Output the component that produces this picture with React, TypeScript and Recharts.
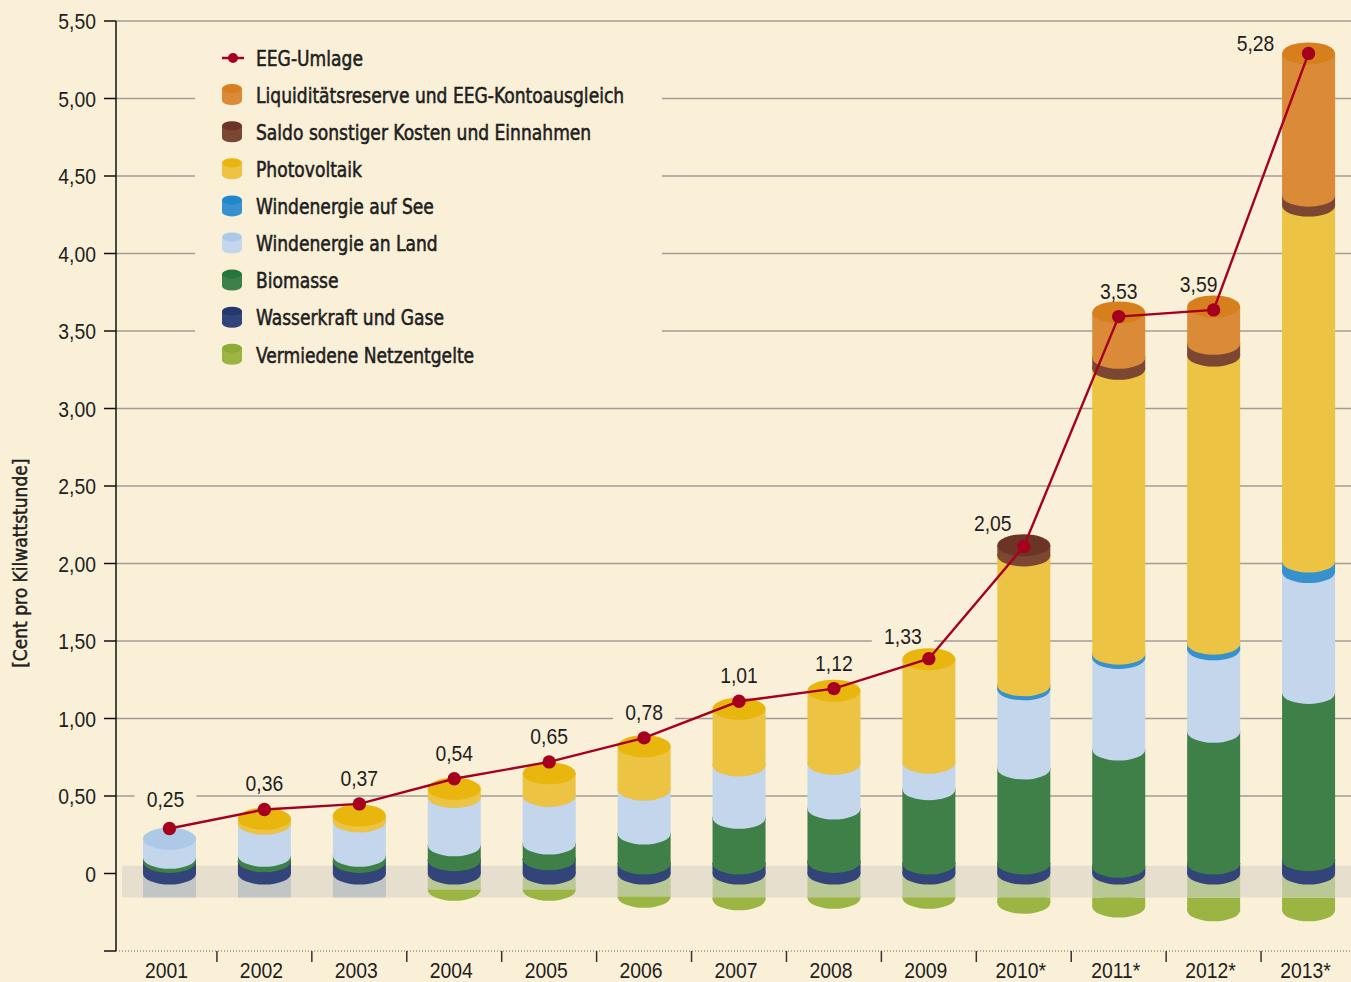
import React from 'react';
import {
  ComposedChart,
  Bar,
  Line,
  XAxis,
  YAxis,
  CartesianGrid,
  ReferenceArea,
  LabelList,
  Legend,
} from 'recharts';

// ---------- data ----------
const years = ['2001', '2002', '2003', '2004', '2005', '2006', '2007', '2008', '2009', '2010*', '2011*', '2012*', '2013*'];
const eegUmlage = [0.25, 0.36, 0.37, 0.54, 0.65, 0.78, 1.01, 1.12, 1.33, 2.05, 3.53, 3.59, 5.28];
// height of the EEG marker as drawn in the picture (sits on the cylinder tops)
const eegMarker = [0.29, 0.413, 0.449, 0.611, 0.72, 0.875, 1.111, 1.193, 1.386, 2.11, 3.593, 3.636, 5.291];

const wasserkraft = [0.075, 0.079, 0.075, 0.086, 0.092, 0.064, 0.064, 0.075, 0.064, 0.064, 0.043, 0.064, 0.086];
const biomasse = [0.026, 0.035, 0.039, 0.096, 0.101, 0.194, 0.295, 0.344, 0.48, 0.613, 0.757, 0.85, 1.079];
const windLand = [0.123, 0.208, 0.223, 0.312, 0.308, 0.284, 0.339, 0.29, 0.172, 0.511, 0.591, 0.532, 0.78];
const windSee = [null, null, null, null, null, null, null, null, null, 0.026, 0.027, 0.037, 0.068];
const photovoltaik = [null, 0.031, 0.038, 0.053, 0.145, 0.279, 0.365, 0.47, 0.667, 0.838, 1.838, 1.859, 2.296];
const saldo = [null, null, null, null, null, null, null, null, null, 0.066, 0.071, 0.075, 0.064];
const liquiditaet = [null, null, null, null, null, null, null, null, null, null, 0.293, 0.241, 0.918];
const netzentgelte = [null, null, null, -0.105, -0.105, -0.15, -0.166, -0.157, -0.157, -0.189, -0.213, -0.237, -0.237];
const ohneAngabe = [-0.155, -0.155, -0.155, null, null, null, null, null, null, null, null, null, null];

const yTicks = [-0.5, 0, 0.5, 1, 1.5, 2, 2.5, 3, 3.5, 4, 4.5, 5, 5.5];
const gridValues = [0.5, 1, 1.5, 2, 2.5, 3, 3.5, 4, 4.5, 5, 5.5];
const BAND_LOW = -0.155;
const BAND_HIGH = 0.05;

const seriesNames = [
  'EEG-Umlage',
  'Liquiditätsreserve und EEG-Kontoausgleich',
  'Saldo sonstiger Kosten und Einnahmen',
  'Photovoltaik',
  'Windenergie auf See',
  'Windenergie an Land',
  'Biomasse',
  'Wasserkraft und Gase',
  'Vermiedene Netzentgelte',
];

// ---------- style ----------
const W = 1356;
const H = 982;
const TOP = 21;
const XAXIS_H = 31;
const PLOT_H = H - TOP - XAXIS_H;
const DOMAIN: [number, number] = [-0.5, 5.5];
const BG = '#faf0d8';
const RED = '#a6001f';
const GRID = '#a29d95';
const TEXT = '#1e1e1e';
const SANS = "'Liberation Sans', Arial, sans-serif";
const COND = "'DejaVu Sans Condensed', 'DejaVu Sans', sans-serif";
const NARROW_SCALE = 0.86;
const COND_SCALE = 0.885;
const RY = 11;

const COL = {
  liq: { side: '#db8a38', top: '#d77f1c' },
  saldo: { side: '#7c4732', top: '#6b3424' },
  pv: { side: '#ecc343', top: '#e9b60d' },
  ws: { side: '#3791cf', top: '#1f87cb' },
  lb: { side: '#c3d6ec', top: '#aec9e7' },
  bio: { side: '#3f8048', top: '#23773d' },
  wk: { side: '#32447a', top: '#22386e' },
  nz: { side: '#9bb543', top: '#8eac35', band: '#bac896' },
  none: '#c1c6c5',
  band: '#e7dfcd',
};

const legendColors = [null, COL.liq, COL.saldo, COL.pv, COL.ws, COL.lb, COL.bio, COL.wk, COL.nz];

const labelNudge: Record<number, [number, number]> = {
  0: [-4, -4],
  8: [-26, 3],
  9: [-31, 3],
  11: [-15, 0],
  12: [-53, 16],
};

const data = years.map((year, i) => ({
  year,
  nz: netzentgelte[i],
  ohne: ohneAngabe[i],
  wk: wasserkraft[i],
  bio: biomasse[i],
  lb: windLand[i],
  ws: windSee[i],
  pv: photovoltaik[i],
  saldo: saldo[i],
  liq: liquiditaet[i],
  marker: eegMarker[i],
  eeg: eegUmlage[i],
}));

const fmt = (v: number) => (v === 0 ? '0' : v < 0 ? '' : v.toFixed(2).replace('.', ','));
const valToPx = (v: number) => TOP + ((DOMAIN[1] - v) / (DOMAIN[1] - DOMAIN[0])) * PLOT_H;

// narrow text: Liberation Sans squeezed horizontally (Helvetica Condensed look)
const NarrowText = ({ x, y, anchor, children, size = 22.5 }: any) => (
  <text
    transform={`translate(${x},${y}) scale(${NARROW_SCALE},1)`}
    x={0}
    y={0}
    textAnchor={anchor}
    fontFamily={SANS}
    fontSize={size}
    fill={TEXT}
  >
    {children}
  </text>
);

// ---------- shapes ----------
function cylinder(side: string, top: string) {
  return (p: any) => {
    const { x, y, width, height } = p;
    if (x == null || y == null || !width || Math.abs(height || 0) < 0.5) return <g />;
    const t = Math.min(y, y + height);
    const b = Math.max(y, y + height);
    const cx = x + width / 2;
    const rx = width / 2;
    return (
      <g>
        <ellipse cx={cx} cy={b} rx={rx} ry={RY} fill={side} />
        <rect x={x} y={t} width={width} height={b - t} fill={side} />
        <ellipse cx={cx} cy={t} rx={rx} ry={RY} fill={top} />
      </g>
    );
  };
}

const nzShape = (p: any) => {
  const { x, y, width, height, payload } = p;
  if (x == null || y == null || !width || Math.abs(height || 0) < 0.5 || !payload || payload.nz == null) return <g />;
  const t = Math.min(y, y + height);
  const b = Math.max(y, y + height);
  const ppu = (b - t) / Math.abs(payload.nz);
  const bandB = Math.min(b, t + Math.abs(BAND_LOW) * ppu);
  const cx = x + width / 2;
  return (
    <g>
      <ellipse cx={cx} cy={b} rx={width / 2} ry={RY} fill={COL.nz.side} />
      <rect x={x} y={bandB} width={width} height={b - bandB} fill={COL.nz.side} />
      <rect x={x} y={t - 8} width={width} height={bandB - t + 8} fill={COL.nz.band} />
    </g>
  );
};

const noneShape = (p: any) => {
  const { x, y, width, height } = p;
  if (x == null || y == null || !width || Math.abs(height || 0) < 0.5) return <g />;
  const t = Math.min(y, y + height);
  const b = Math.max(y, y + height);
  return <rect x={x} y={t - 8} width={width} height={b - t + 8} fill={COL.none} />;
};

// ---------- labels / ticks ----------
const ValueLabel = (p: any) => {
  const { x, y, value, index } = p;
  if (x == null || y == null) return null;
  const n = labelNudge[index] || [0, 0];
  const cx = x + n[0];
  const cy = y - 26 + n[1];
  const hitsGrid = gridValues.some((g) => Math.abs(valToPx(g) - cy) < 10);
  return (
    <g>
      {hitsGrid && <rect x={cx - 31} y={cy - 11} width={62} height={22} fill={BG} />}
      <NarrowText x={cx} y={cy + 8} anchor="middle">
        {fmt(value)}
      </NarrowText>
    </g>
  );
};

const XTick = (p: any) => {
  const { x, y, payload, index } = p;
  const off = payload && payload.offset ? payload.offset : 0;
  return (
    <g>
      {index > 0 && <line x1={x - off} x2={x - off} y1={y} y2={y + 11} stroke="#333" strokeWidth={1.5} />}
      <NarrowText x={x - 3} y={y + 27} anchor="middle">
        {payload.value}
      </NarrowText>
    </g>
  );
};

const YTick = (p: any) => {
  const { x, y, payload } = p;
  const s = fmt(payload.value);
  if (!s) return <g />;
  return (
    <NarrowText x={x} y={y + 8} anchor="end">
      {s}
    </NarrowText>
  );
};

const YLabel = (p: any) => {
  const vb = p.viewBox || { x: 0, y: TOP, width: 116, height: PLOT_H };
  const cx = 20;
  const cy = vb.y + vb.height * 0.583;
  return (
    <text
      x={cx}
      y={cy}
      transform={`rotate(-90 ${cx} ${cy})`}
      textAnchor="middle"
      dy="0.35em"
      fontFamily={COND}
      fontSize={19}
      fill={TEXT}
      stroke={TEXT}
      strokeWidth={0.45}
    >
      [Cent pro Kilwattstunde]
    </text>
  );
};

const LegendBox = () => {
  const rowH = 37.1;
  return (
    <svg width={467} height={335} style={{ display: 'block' }}>
      <rect x={0} y={0} width={467} height={335} fill={BG} />
      {seriesNames.map((name, i) => {
        const cy = 23 + i * rowH;
        const c = legendColors[i];
        return (
          <g key={name}>
            {c ? (
              <g>
                <ellipse cx={37} cy={cy + 5.5} rx={10} ry={4.5} fill={c.side} />
                <rect x={27} y={cy - 6.5} width={20} height={12} fill={c.side} />
                <ellipse cx={37} cy={cy - 6.5} rx={10} ry={4.5} fill={c.top} />
              </g>
            ) : (
              <g>
                <line x1={27} x2={49} y1={cy} y2={cy} stroke={RED} strokeWidth={2.5} />
                <circle cx={38} cy={cy} r={5} fill={RED} />
              </g>
            )}
            <text
              transform={`translate(61,${cy}) scale(${COND_SCALE},1)`}
              x={0}
              y={0}
              dy="0.36em"
              fontFamily={COND}
              fontSize={21.5}
              fill={TEXT}
              stroke={TEXT}
              strokeWidth={0.55}
            >
              {name}
            </text>
          </g>
        );
      })}
    </svg>
  );
};

export default function App() {
  return (
    <div
      style={{
        position: 'absolute',
        left: 0,
        top: 0,
        width: 1351,
        height: 982,
        overflow: 'hidden',
        background: BG,
      }}
    >
      <ComposedChart
        width={W}
        height={H}
        data={data}
        stackOffset="sign"
        margin={{ top: TOP, right: 0, bottom: 0, left: 0 }}
        style={{ background: BG }}
      >
        <CartesianGrid vertical={false} horizontalValues={gridValues} stroke={GRID} strokeWidth={1.6} />
        <ReferenceArea y1={BAND_LOW} y2={BAND_HIGH} fill={COL.band} fillOpacity={1} stroke="none" ifOverflow="visible" />
        <XAxis
          dataKey="year"
          interval={0}
          height={XAXIS_H}
          padding={{ left: 6, right: 0 }}
          axisLine={{ stroke: '#666', strokeWidth: 1, strokeDasharray: '1 2' }}
          tickLine={false}
          tickSize={0}
          tickMargin={0}
          tick={<XTick />}
        />
        <YAxis
          type="number"
          domain={DOMAIN}
          ticks={yTicks}
          interval={0}
          allowDataOverflow
          tickFormatter={fmt}
          width={116}
          axisLine={{ stroke: '#111', strokeWidth: 1.5 }}
          tickLine={{ stroke: '#111', strokeWidth: 1.5 }}
          tickSize={12}
          tickMargin={8}
          tick={<YTick />}
          label={{ content: <YLabel /> }}
        />
        <Legend
          layout="vertical"
          align="center"
          verticalAlign="middle"
          wrapperStyle={{ left: 195, top: 35, width: 467, height: 335 }}
          content={<LegendBox />}
        />
        <Bar dataKey="nz" name="Vermiedene Netzentgelte" stackId="s" barSize={53} fill={COL.nz.side} shape={nzShape} isAnimationActive={false} />
        <Bar dataKey="ohne" name="ohne Angabe" stackId="s" barSize={53} fill={COL.none} shape={noneShape} isAnimationActive={false} />
        <Bar dataKey="wk" name="Wasserkraft und Gase" stackId="s" barSize={53} fill={COL.wk.side} shape={cylinder(COL.wk.side, COL.wk.top)} isAnimationActive={false} />
        <Bar dataKey="bio" name="Biomasse" stackId="s" barSize={53} fill={COL.bio.side} shape={cylinder(COL.bio.side, COL.bio.top)} isAnimationActive={false} />
        <Bar dataKey="lb" name="Windenergie an Land" stackId="s" barSize={53} fill={COL.lb.side} shape={cylinder(COL.lb.side, COL.lb.top)} isAnimationActive={false} />
        <Bar dataKey="ws" name="Windenergie auf See" stackId="s" barSize={53} fill={COL.ws.side} shape={cylinder(COL.ws.side, COL.ws.top)} isAnimationActive={false} />
        <Bar dataKey="pv" name="Photovoltaik" stackId="s" barSize={53} fill={COL.pv.side} shape={cylinder(COL.pv.side, COL.pv.top)} isAnimationActive={false} />
        <Bar dataKey="saldo" name="Saldo sonstiger Kosten und Einnahmen" stackId="s" barSize={53} fill={COL.saldo.side} shape={cylinder(COL.saldo.side, COL.saldo.top)} isAnimationActive={false} />
        <Bar dataKey="liq" name="Liquiditätsreserve und EEG-Kontoausgleich" stackId="s" barSize={53} fill={COL.liq.side} shape={cylinder(COL.liq.side, COL.liq.top)} isAnimationActive={false} />
        <Line
          dataKey="marker"
          name="EEG-Umlage"
          stroke={RED}
          strokeWidth={2.4}
          dot={{ r: 6.7, fill: RED, stroke: RED, strokeWidth: 0 }}
          activeDot={false}
          isAnimationActive={false}
        >
          <LabelList dataKey="eeg" content={<ValueLabel />} />
        </Line>
      </ComposedChart>
    </div>
  );
}
